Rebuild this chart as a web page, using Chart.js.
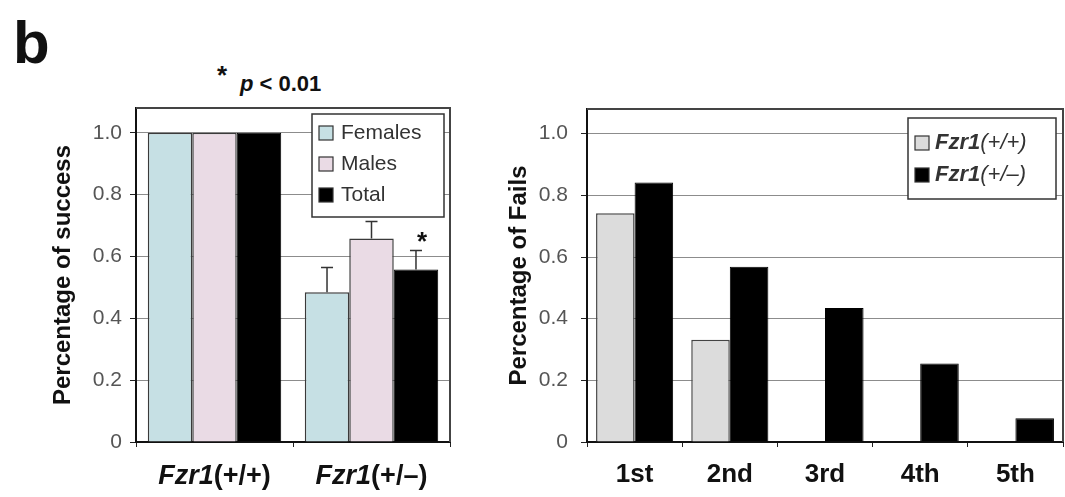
<!DOCTYPE html>
<html>
<head>
<meta charset="utf-8">
<script src="https://cdn.jsdelivr.net/npm/chart.js@4"></script>
<style>
  html, body { margin: 0; padding: 0; background: #fff; }
  body { width: 1065px; height: 497px; position: relative; overflow: hidden; font-family: "Liberation Sans", Arial, sans-serif; }
  .panel { position: absolute; top: 0; height: 497px; }
  #leftPanel { left: 0; width: 470px; }
  #rightPanel { left: 480px; width: 585px; }
  .txt { position: absolute; white-space: nowrap; color: #111; font-weight: bold; }
</style>
</head>
<body>
<div class="txt" style="left:13px; top:13px; font-size:60px; line-height:60px;">b</div>
<div class="txt" style="left:217px; top:62px; font-size:26px; line-height:26px;">*</div>
<div class="txt" style="left:240px; top:73px; font-size:22px; line-height:22px;"><i>p</i> &lt; 0.01</div>

<div class="panel" id="leftPanel"><canvas id="successChart"></canvas></div>
<div class="panel" id="rightPanel"><canvas id="failsChart"></canvas></div>

<script>
// --- DATA ---
const genotypes = ['Fzr1(+/+)', 'Fzr1(+/–)'];
const females = [1.0, 0.484];
const femalesErr = [0, 0.08];
const males = [1.0, 0.658];
const malesErr = [0, 0.055];
const total = [1.0, 0.558];
const totalErr = [0, 0.061];
const totalMarks = ['', '*'];

const attempts = ['1st', '2nd', '3rd', '4th', '5th'];
const failsWT = [0.742, 0.332, 0, 0, 0];
const failsHet = [0.842, 0.568, 0.435, 0.255, 0.077];

const yTickValues = [0, 0.2, 0.4, 0.6, 0.8, 1.0];
const yTickLabels = ['0', '0.2', '0.4', '0.6', '0.8', '1.0'];

const FONT = '"Liberation Sans", Arial, sans-serif';
Chart.defaults.font.family = FONT;

// --- HELPERS ---

// Draws "Fzr1" in bold italic followed by the rest of the label
function drawGenotype(ctx, text, cx, cy, size, restStyle) {
    const head = 'Fzr1';
    const rest = text.slice(head.length);
    ctx.font = `italic bold ${size}px ${FONT}`;
    const w1 = ctx.measureText(head).width;
    ctx.font = `${restStyle} ${size}px ${FONT}`;
    const w2 = ctx.measureText(rest).width;
    let x = cx - (w1 + w2) / 2;
    ctx.textAlign = 'left';
    ctx.textBaseline = 'middle';
    ctx.font = `italic bold ${size}px ${FONT}`;
    ctx.fillText(head, x, cy);
    ctx.font = `${restStyle} ${size}px ${FONT}`;
    ctx.fillText(rest, x + w1, cy);
}

// Frame round the plot area (top and right sides)
const framePlugin = {
    id: 'frame',
    afterDraw(chart) {
        const { ctx, chartArea: a } = chart;
        ctx.save();
        ctx.strokeStyle = '#444';
        ctx.lineWidth = 2;
        ctx.beginPath();
        ctx.moveTo(a.left, a.top);
        ctx.lineTo(a.right, a.top);
        ctx.lineTo(a.right, a.bottom);
        ctx.stroke();
        ctx.restore();
    }
};

// Upward error bars and significance marks
const errorBarPlugin = {
    id: 'errorBars',
    afterDatasetsDraw(chart) {
        const { ctx } = chart;
        const y = chart.scales.y;
        chart.data.datasets.forEach((ds, di) => {
            if (!ds.errors) return;
            const meta = chart.getDatasetMeta(di);
            meta.data.forEach((bar, i) => {
                const err = ds.errors[i];
                if (!err) return;
                const top = y.getPixelForValue(ds.data[i] + err);
                ctx.save();
                ctx.strokeStyle = '#333';
                ctx.lineWidth = 1.5;
                ctx.beginPath();
                ctx.moveTo(bar.x, bar.y);
                ctx.lineTo(bar.x, top);
                ctx.moveTo(bar.x - 6, top);
                ctx.lineTo(bar.x + 6, top);
                ctx.stroke();
                if (ds.marks && ds.marks[i]) {
                    ctx.fillStyle = '#111';
                    ctx.font = `bold 26px ${FONT}`;
                    ctx.textAlign = 'center';
                    ctx.textBaseline = 'alphabetic';
                    ctx.fillText(ds.marks[i], bar.x + 6, top - 1);
                }
                ctx.restore();
            });
        });
    }
};

// Legend drawn inside the plot box
const boxLegendPlugin = {
    id: 'boxLegend',
    afterDraw(chart, args, opts) {
        const { ctx } = chart;
        ctx.save();
        ctx.fillStyle = '#fff';
        ctx.fillRect(opts.x, opts.y, opts.w, opts.h);
        ctx.strokeStyle = '#333';
        ctx.lineWidth = 1.5;
        ctx.strokeRect(opts.x, opts.y, opts.w, opts.h);
        chart.data.datasets.forEach((ds, i) => {
            const cy = opts.y + opts.first + i * opts.step;
            ctx.fillStyle = ds.backgroundColor;
            ctx.fillRect(opts.x + 7, cy - 7, 14, 14);
            ctx.strokeStyle = '#333';
            ctx.lineWidth = 1.2;
            ctx.strokeRect(opts.x + 7, cy - 7, 14, 14);
            ctx.fillStyle = '#333';
            if (opts.genotype) {
                drawGenotype(ctx, ds.label, 0, 0, 0, ''); // reset font state
                const size = opts.size;
                ctx.font = `italic bold ${size}px ${FONT}`;
                const w1 = ctx.measureText('Fzr1').width;
                ctx.textAlign = 'left';
                ctx.textBaseline = 'middle';
                ctx.fillText('Fzr1', opts.x + 27, cy);
                ctx.font = `italic ${size}px ${FONT}`;
                ctx.fillText(ds.label.slice(4), opts.x + 27 + w1, cy);
            } else {
                ctx.font = `${opts.size}px ${FONT}`;
                ctx.textAlign = 'left';
                ctx.textBaseline = 'middle';
                ctx.fillText(ds.label, opts.x + 29, cy);
            }
        });
        ctx.restore();
    }
};

// Mixed-style category labels for the left panel
const genotypeLabelPlugin = {
    id: 'genotypeLabels',
    afterDraw(chart) {
        const x = chart.scales.x;
        const { ctx } = chart;
        ctx.save();
        ctx.fillStyle = '#111';
        chart.data.labels.forEach((lab, i) => {
            drawGenotype(ctx, lab, x.getPixelForValue(i), 477, 27, 'bold');
        });
        ctx.restore();
    }
};

function yScale(width, titleText, titleOffset) {
    return {
        min: 0,
        max: 1.08,
        afterBuildTicks: (scale) => { scale.ticks = yTickValues.map(v => ({ value: v })); },
        afterFit: (scale) => { scale.width = width; },
        ticks: {
            color: '#555',
            font: { size: 21 },
            padding: 8,
            callback: (v, i) => yTickLabels[i]
        },
        grid: { color: '#8c8c8c', lineWidth: 1, tickLength: 6, tickColor: '#222' },
        border: { color: '#111', width: 2 },
        title: {
            display: true,
            text: titleText,
            color: '#111',
            font: { size: 24, weight: 'bold' },
            padding: { top: titleOffset, bottom: 0 }
        }
    };
}

// --- LEFT PANEL: percentage of success ---
new Chart(document.getElementById('successChart'), {
    type: 'bar',
    data: {
        labels: genotypes,
        datasets: [
            { label: 'Females', data: females, errors: femalesErr, backgroundColor: '#c6e0e4', borderColor: '#3a3a3a', borderWidth: 1.5 },
            { label: 'Males', data: males, errors: malesErr, backgroundColor: '#eadbe5', borderColor: '#3a3a3a', borderWidth: 1.5 },
            { label: 'Total', data: total, errors: totalErr, marks: totalMarks, backgroundColor: '#000', borderColor: '#000', borderWidth: 1 }
        ]
    },
    options: {
        responsive: true,
        maintainAspectRatio: false,
        animation: false,
        layout: { padding: { left: 0, right: 20, top: 108, bottom: 0 } },
        datasets: { bar: { categoryPercentage: 0.85, barPercentage: 1 } },
        scales: {
            x: {
                afterFit: (scale) => { scale.height = 55; },
                ticks: { display: false },
                grid: { drawOnChartArea: false, tickLength: 5, color: '#222' },
                border: { color: '#111', width: 2 }
            },
            y: yScale(136, 'Percentage of success', 49)
        },
        plugins: {
            legend: { display: false },
            tooltip: { enabled: false },
            boxLegend: { x: 312, y: 114, w: 132, h: 103, first: 19, step: 31, size: 21 }
        }
    },
    plugins: [framePlugin, errorBarPlugin, boxLegendPlugin, genotypeLabelPlugin]
});

// --- RIGHT PANEL: percentage of fails ---
new Chart(document.getElementById('failsChart'), {
    type: 'bar',
    data: {
        labels: attempts,
        datasets: [
            { label: 'Fzr1(+/+)', data: failsWT, backgroundColor: '#dcdcdc', borderColor: '#444', borderWidth: 1.5 },
            { label: 'Fzr1(+/–)', data: failsHet, backgroundColor: '#000', borderColor: '#000', borderWidth: 1 }
        ]
    },
    options: {
        responsive: true,
        maintainAspectRatio: false,
        animation: false,
        layout: { padding: { left: 0, right: 2, top: 109, bottom: 0 } },
        datasets: { bar: { categoryPercentage: 0.81, barPercentage: 1 } },
        scales: {
            x: {
                afterFit: (scale) => { scale.height = 55; },
                ticks: { color: '#111', font: { size: 26, weight: 'bold' }, padding: 12, maxRotation: 0 },
                grid: { drawOnChartArea: false, tickLength: 5, color: '#222' },
                border: { color: '#111', width: 2 }
            },
            y: (() => {
                const s = yScale(107, 'Percentage of Fails', 25);
                s.ticks.padding = 13;
                return s;
            })()
        },
        plugins: {
            legend: { display: false },
            tooltip: { enabled: false },
            boxLegend: { x: 428, y: 118, w: 148, h: 81, first: 25, step: 32, size: 22, genotype: true }
        }
    },
    plugins: [framePlugin, boxLegendPlugin]
});
</script>
</body>
</html>
